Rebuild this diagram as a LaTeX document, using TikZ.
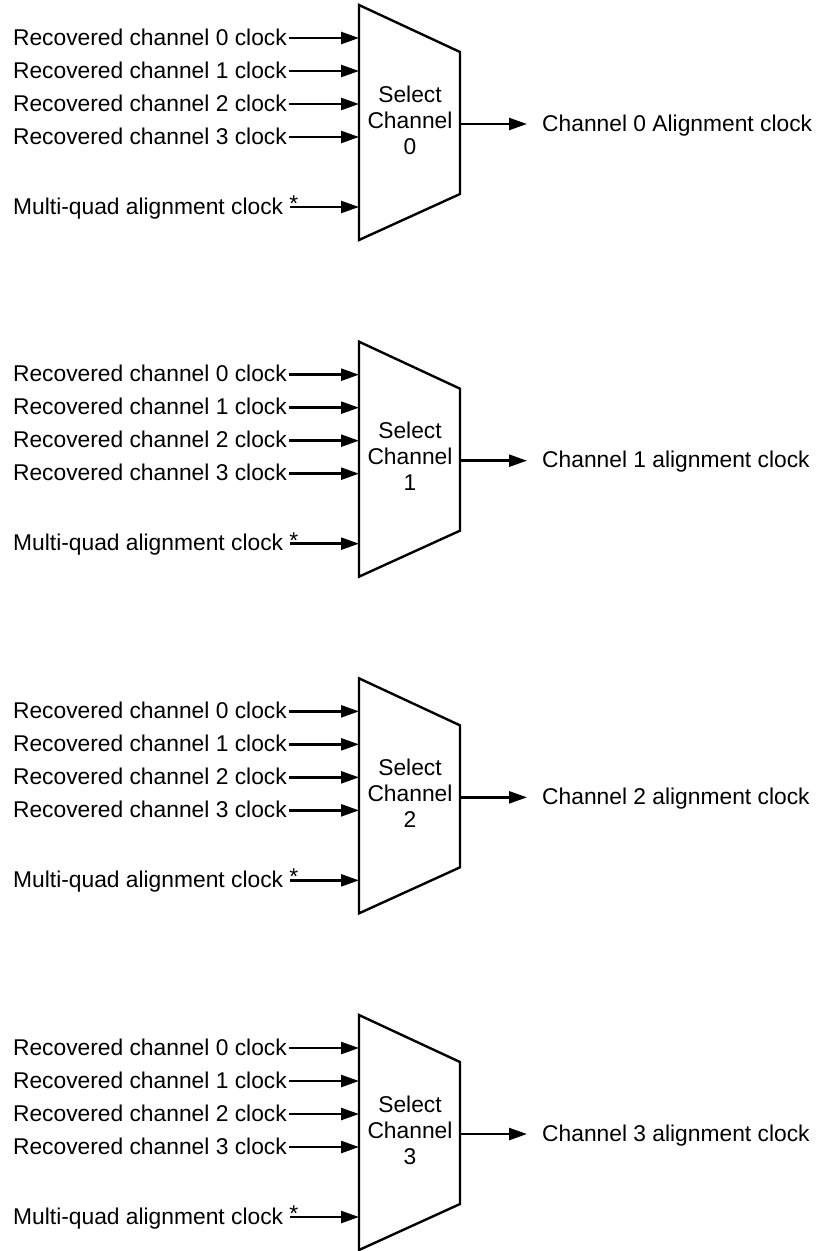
\documentclass[tikz,border=0pt]{standalone}
\usepackage{fontspec}
\setmainfont{Liberation Sans}
\usetikzlibrary{arrows.meta}
\begin{document}
\begin{tikzpicture}[x=1pt,y=-1pt,
  lbl/.style={font=\fontsize{22.8}{26}\selectfont, inner sep=0pt, text height=14pt, text depth=0pt},
  muxlbl/.style={font=\fontsize{22.8}{26}\selectfont, inner sep=0pt, align=center},
  arr/.style={line width=2.4pt, -{Triangle[length=18pt,width=12pt]}},
  muxline/.style={line width=2.4pt, line join=miter}]
\useasboundingbox (0,0) rectangle (817,1251);
\foreach \k/\out in {0/Channel 0 Alignment clock,1/Channel 1 alignment clock,2/Channel 2 alignment clock,3/Channel 3 alignment clock}{
  \begin{scope}[yshift={-336.67pt*\k}]
    % multiplexer
    \coordinate (tl\k) at (359,5);
    \coordinate (tr\k) at (460,52);
    \coordinate (br\k) at (460,194);
    \coordinate (bl\k) at (359,240);
    \draw[muxline] (tl\k) -- (tr\k) -- (br\k) -- (bl\k) -- cycle;
    \node[muxlbl] (m\k) at (410,120) {Select\\Channel\\\k};
    % inputs
    \foreach \i/\y in {0/38,1/71,2/104,3/137}{
      \node[lbl, anchor=east] (r\k\i) at (287,\y) {Recovered channel \i\ clock};
      \coordinate (e\k\i) at (359,\y);
      \draw[arr] ([xshift=2pt]r\k\i.east) -- (e\k\i);
    }
    \node[lbl, anchor=west] (q\k) at (13,207) {Multi-quad alignment clock \raisebox{2.5pt}{*}};
    \coordinate (qs\k) at (290,207);
    \coordinate (qe\k) at (359,207);
    \draw[arr] (qs\k) -- (qe\k);
    % output
    \coordinate (os\k) at (460,124);
    \node[lbl, anchor=west] (o\k) at (542,124) {\out};
    \draw[arr, shorten >=15pt] (os\k) -- (o\k.west);
  \end{scope}
}
\end{tikzpicture}
\end{document}
